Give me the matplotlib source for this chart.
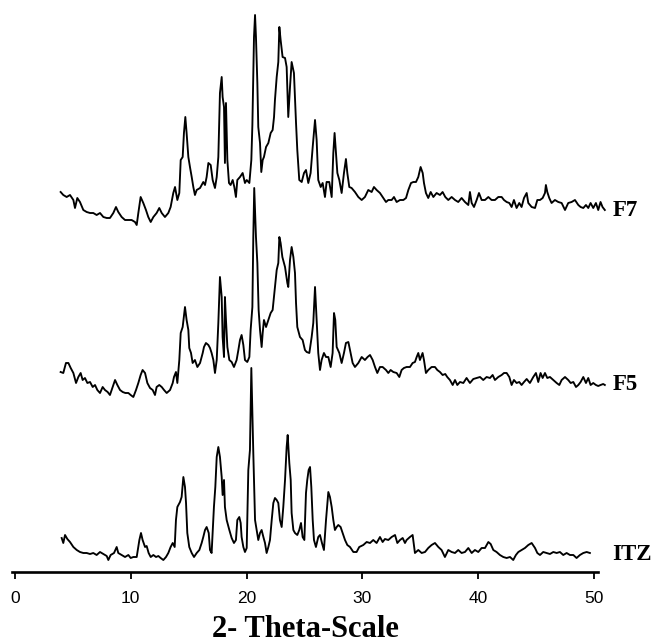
import numpy as np
import matplotlib.pyplot as plt

# (2-theta in degrees, intensity in a.u.) for each sample
itz_pattern = [
    (4.03, 24), (4.17, 19), (4.32, 27), (4.52, 23), (4.75, 20), (5.04, 15), (5.33, 12), (5.61, 10),
    (5.90, 9), (6.19, 9), (6.48, 8), (6.76, 9), (7.05, 7), (7.34, 10), (7.63, 8), (7.92, 6),
    (8.06, 2), (8.26, 7), (8.55, 9), (8.78, 15), (8.92, 9), (9.21, 7), (9.50, 5), (9.79, 7),
    (9.99, 4), (10.22, 5), (10.51, 5), (10.74, 22), (10.88, 29), (11.02, 22), (11.23, 15), (11.37, 16),
    (11.54, 9), (11.72, 5), (11.95, 7), (12.18, 5), (12.38, 6), (12.58, 4), (12.81, 2), (13.04, 5),
    (13.24, 9), (13.44, 15), (13.62, 19), (13.79, 15), (13.90, 42), (14.02, 55), (14.25, 60), (14.39, 65),
    (14.54, 85), (14.68, 75), (14.77, 59), (14.88, 29), (15.05, 15), (15.26, 9), (15.46, 5), (15.69, 9),
    (15.92, 12), (16.12, 19), (16.26, 25), (16.41, 32), (16.55, 35), (16.73, 29), (16.84, 12), (16.98, 9),
    (17.07, 29), (17.18, 55), (17.30, 75), (17.42, 105), (17.56, 115), (17.70, 105), (17.85, 85), (17.93, 67),
    (18.05, 82), (18.13, 55), (18.28, 42), (18.51, 32), (18.71, 24), (18.91, 19), (19.08, 22), (19.20, 42),
    (19.37, 45), (19.49, 39), (19.57, 25), (19.72, 15), (19.86, 10), (20.01, 14), (20.15, 92), (20.29, 112),
    (20.41, 194), (20.58, 109), (20.73, 42), (20.87, 32), (21.01, 22), (21.16, 29), (21.30, 32), (21.45, 25),
    (21.59, 19), (21.73, 9), (21.88, 15), (22.02, 22), (22.17, 42), (22.31, 59), (22.45, 64), (22.60, 62),
    (22.74, 59), (22.88, 42), (23.03, 35), (23.17, 55), (23.32, 82), (23.46, 115), (23.55, 127), (23.69, 99),
    (23.81, 82), (23.89, 49), (24.04, 32), (24.18, 29), (24.38, 27), (24.55, 32), (24.70, 39), (24.84, 25),
    (24.99, 22), (25.13, 69), (25.24, 82), (25.36, 92), (25.48, 95), (25.59, 75), (25.71, 42), (25.82, 22),
    (25.99, 15), (26.19, 25), (26.34, 27), (26.51, 19), (26.68, 12), (26.86, 42), (27.06, 70), (27.20, 65),
    (27.35, 55), (27.49, 42), (27.63, 32), (27.78, 35), (27.92, 37), (28.12, 35), (28.30, 29), (28.50, 22),
    (28.70, 17), (28.93, 15), (29.22, 10), (29.50, 10), (29.73, 15), (30.08, 17), (30.37, 20), (30.66, 19),
    (30.94, 22), (31.23, 19), (31.52, 25), (31.75, 20), (31.95, 23), (32.24, 22), (32.53, 25), (32.82, 27),
    (33.02, 19), (33.25, 22), (33.48, 24), (33.68, 19), (33.82, 22), (34.11, 25), (34.34, 27), (34.54, 9),
    (34.83, 12), (35.12, 9), (35.41, 10), (35.69, 14), (35.98, 17), (36.27, 19), (36.56, 15), (36.84, 12),
    (37.13, 5), (37.42, 12), (37.71, 10), (38.00, 9), (38.28, 12), (38.57, 9), (38.86, 10), (39.15, 14),
    (39.44, 9), (39.72, 12), (40.01, 10), (40.30, 14), (40.59, 14), (40.88, 20), (41.08, 18), (41.31, 12),
    (41.59, 10), (41.88, 7), (42.17, 5), (42.46, 4), (42.75, 5), (43.03, 2), (43.26, 7), (43.47, 10),
    (43.75, 12), (44.04, 14), (44.33, 17), (44.62, 19), (44.91, 14), (45.11, 9), (45.34, 7), (45.62, 10),
    (45.91, 9), (46.20, 8), (46.49, 10), (46.78, 9), (47.06, 10), (47.35, 7), (47.64, 9), (47.93, 7),
    (48.22, 7), (48.50, 4), (48.79, 7), (49.08, 9), (49.37, 10), (49.65, 9),
]

f5_pattern = [
    (3.94, 28), (4.17, 27), (4.40, 37), (4.61, 37), (4.81, 32), (5.04, 27), (5.27, 17), (5.47, 23),
    (5.67, 27), (5.84, 20), (6.04, 22), (6.25, 17), (6.48, 18), (6.71, 13), (6.91, 15), (7.11, 10),
    (7.34, 7), (7.57, 13), (7.77, 10), (8.00, 8), (8.20, 5), (8.43, 13), (8.64, 20), (8.84, 15),
    (9.07, 10), (9.30, 8), (9.53, 7), (9.79, 7), (9.99, 5), (10.22, 3), (10.45, 10), (10.65, 17),
    (10.85, 25), (11.02, 30), (11.23, 27), (11.43, 17), (11.66, 12), (11.89, 10), (12.09, 5), (12.23, 13),
    (12.46, 15), (12.67, 13), (12.87, 10), (13.10, 7), (13.39, 10), (13.62, 17), (13.73, 23), (13.90, 28),
    (14.02, 17), (14.19, 40), (14.31, 67), (14.48, 73), (14.68, 93), (14.82, 80), (14.97, 70), (15.05, 52),
    (15.20, 47), (15.34, 37), (15.54, 40), (15.75, 33), (15.98, 37), (16.21, 47), (16.32, 53), (16.49, 57),
    (16.70, 55), (16.84, 52), (16.98, 47), (17.13, 40), (17.27, 27), (17.42, 40), (17.56, 77), (17.70, 123),
    (17.85, 103), (17.93, 63), (18.05, 43), (18.13, 103), (18.22, 80), (18.34, 53), (18.51, 40), (18.71, 38),
    (18.91, 33), (19.14, 40), (19.29, 50), (19.43, 60), (19.57, 65), (19.72, 55), (19.86, 40), (20.06, 38),
    (20.24, 43), (20.35, 70), (20.50, 93), (20.58, 163), (20.66, 212), (20.81, 163), (20.93, 137), (21.04, 90),
    (21.16, 70), (21.30, 53), (21.39, 67), (21.50, 80), (21.68, 73), (21.88, 80), (22.08, 87), (22.25, 90),
    (22.45, 113), (22.60, 130), (22.74, 137), (22.83, 163), (22.94, 157), (23.09, 143), (23.32, 133), (23.52, 117),
    (23.60, 113), (23.75, 140), (23.89, 153), (24.04, 143), (24.18, 127), (24.27, 97), (24.38, 73), (24.61, 63),
    (24.84, 60), (25.04, 50), (25.19, 48), (25.42, 47), (25.62, 63), (25.76, 77), (25.91, 113), (26.05, 80),
    (26.19, 47), (26.34, 30), (26.48, 40), (26.68, 47), (26.86, 43), (27.06, 43), (27.26, 33), (27.43, 47),
    (27.55, 87), (27.66, 80), (27.78, 53), (28.01, 47), (28.21, 37), (28.41, 47), (28.58, 57), (28.79, 58),
    (28.93, 50), (29.16, 37), (29.36, 33), (29.65, 37), (29.94, 43), (30.22, 40), (30.45, 43), (30.66, 45),
    (30.89, 40), (31.09, 33), (31.29, 27), (31.52, 33), (31.75, 33), (32.04, 30), (32.24, 27), (32.44, 30),
    (32.67, 28), (32.96, 27), (33.19, 23), (33.39, 30), (33.59, 32), (33.82, 33), (34.11, 33), (34.34, 37),
    (34.54, 38), (34.69, 43), (34.83, 47), (34.97, 40), (35.20, 47), (35.32, 40), (35.49, 27), (35.69, 30),
    (35.98, 33), (36.27, 33), (36.47, 30), (36.70, 28), (36.93, 25), (37.16, 26), (37.33, 23), (37.56, 20),
    (37.80, 15), (38.00, 20), (38.20, 15), (38.43, 18), (38.72, 17), (39.00, 22), (39.29, 17), (39.58, 21),
    (39.87, 22), (40.16, 23), (40.44, 20), (40.73, 23), (41.02, 22), (41.25, 25), (41.45, 20), (41.74, 23),
    (42.03, 25), (42.23, 27), (42.46, 27), (42.69, 23), (42.89, 15), (43.09, 20), (43.32, 17), (43.55, 18),
    (43.75, 15), (43.96, 18), (44.19, 21), (44.47, 17), (44.76, 23), (44.99, 27), (45.19, 18), (45.39, 27),
    (45.57, 22), (45.77, 27), (45.97, 22), (46.20, 23), (46.49, 20), (46.78, 17), (47.01, 15), (47.21, 20),
    (47.50, 23), (47.78, 20), (47.99, 17), (48.22, 18), (48.45, 13), (48.65, 15), (48.85, 18), (49.08, 23),
    (49.31, 17), (49.51, 22), (49.71, 15), (49.94, 17), (50.17, 15), (50.37, 14), (50.57, 15), (50.80, 16),
    (50.94, 15),
]

f7_pattern = [
    (3.94, 33), (4.17, 30), (4.46, 28), (4.75, 30), (5.04, 25), (5.18, 17), (5.38, 27), (5.61, 23),
    (5.90, 15), (6.19, 13), (6.48, 12), (6.76, 12), (7.05, 10), (7.34, 12), (7.63, 8), (7.92, 7),
    (8.20, 7), (8.49, 12), (8.72, 18), (8.92, 13), (9.21, 8), (9.50, 5), (9.79, 5), (10.07, 5),
    (10.36, 3), (10.51, 0), (10.65, 12), (10.85, 28), (11.08, 22), (11.31, 15), (11.51, 8), (11.72, 3),
    (11.95, 8), (12.23, 12), (12.46, 17), (12.67, 12), (12.95, 8), (13.24, 12), (13.44, 18), (13.67, 32),
    (13.82, 38), (14.02, 25), (14.19, 32), (14.31, 65), (14.48, 68), (14.59, 92), (14.71, 108), (14.82, 92),
    (14.97, 68), (15.11, 58), (15.26, 48), (15.40, 38), (15.54, 30), (15.69, 35), (15.98, 37), (16.26, 43),
    (16.41, 40), (16.55, 48), (16.70, 62), (16.90, 60), (17.07, 45), (17.27, 37), (17.42, 48), (17.56, 68),
    (17.70, 132), (17.85, 148), (17.93, 128), (18.05, 118), (18.13, 62), (18.22, 122), (18.34, 65), (18.48, 42),
    (18.62, 40), (18.80, 45), (18.94, 38), (19.08, 28), (19.20, 45), (19.43, 48), (19.66, 52), (19.86, 42),
    (20.01, 45), (20.24, 42), (20.41, 65), (20.50, 100), (20.64, 188), (20.73, 210), (20.81, 188), (20.93, 142),
    (21.01, 98), (21.16, 82), (21.27, 53), (21.39, 65), (21.50, 68), (21.68, 78), (21.88, 82), (22.08, 92),
    (22.25, 95), (22.37, 108), (22.45, 125), (22.60, 148), (22.74, 163), (22.83, 198), (22.94, 185), (23.11, 168),
    (23.32, 167), (23.46, 158), (23.60, 108), (23.75, 138), (23.89, 163), (24.09, 152), (24.27, 102), (24.38, 75),
    (24.55, 45), (24.76, 43), (24.96, 52), (25.13, 55), (25.33, 42), (25.53, 52), (25.71, 78), (25.91, 105),
    (26.05, 85), (26.19, 45), (26.40, 38), (26.57, 42), (26.77, 28), (26.91, 43), (27.14, 43), (27.35, 28),
    (27.49, 72), (27.60, 92), (27.72, 72), (27.84, 52), (28.01, 45), (28.21, 32), (28.41, 52), (28.58, 66),
    (28.70, 52), (28.87, 38), (29.07, 37), (29.36, 33), (29.65, 28), (29.94, 25), (30.22, 28), (30.51, 35),
    (30.80, 33), (31.00, 38), (31.23, 35), (31.52, 32), (31.81, 27), (32.04, 23), (32.24, 25), (32.53, 25),
    (32.73, 28), (32.96, 23), (33.25, 25), (33.54, 25), (33.77, 27), (33.97, 35), (34.20, 42), (34.40, 43),
    (34.63, 43), (34.83, 48), (35.03, 58), (35.21, 52), (35.32, 42), (35.49, 32), (35.69, 27), (35.90, 33),
    (36.13, 28), (36.41, 32), (36.70, 30), (36.93, 33), (37.16, 28), (37.42, 25), (37.71, 28), (38.00, 25),
    (38.28, 23), (38.57, 27), (38.86, 23), (39.15, 20), (39.29, 33), (39.44, 22), (39.64, 18), (39.87, 25),
    (40.07, 32), (40.30, 25), (40.59, 25), (40.88, 28), (41.16, 25), (41.45, 25), (41.74, 28), (42.03, 28),
    (42.23, 25), (42.46, 23), (42.69, 22), (42.89, 18), (43.09, 25), (43.32, 17), (43.55, 22), (43.75, 18),
    (43.96, 27), (44.19, 32), (44.33, 22), (44.62, 18), (44.91, 17), (45.11, 25), (45.34, 25), (45.57, 27),
    (45.77, 32), (45.85, 40), (45.97, 33), (46.14, 27), (46.34, 22), (46.63, 25), (46.92, 23), (47.21, 22),
    (47.50, 15), (47.78, 22), (48.07, 23), (48.36, 25), (48.65, 20), (48.85, 18), (49.08, 17), (49.31, 20),
    (49.51, 17), (49.71, 22), (49.94, 17), (50.17, 22), (50.37, 15), (50.57, 23), (50.74, 18), (50.94, 15),
]

samples = ["ITZ", "F5", "F7"]
patterns = [itz_pattern, f5_pattern, f7_pattern]
x_ticks = [0, 10, 20, 30, 40, 50]

# vertical stacking of the diffractograms
offsets = [10, 172, 347]
label_y = [18, 187, 362]

fig = plt.figure(figsize=(6.53, 6.44), dpi=100)
ax = fig.add_axes([12 / 653, 72 / 644, 586 / 653, 572 / 644])

for name, pattern, off, ly in zip(samples, patterns, offsets, label_y):
    data = np.array(pattern)
    ax.plot(data[:, 0], data[:, 1] + off, color="black", lw=1.35, clip_on=False)
    ax.text(51.6, ly, name, fontsize=16.5, fontweight="bold",
            family="Liberation Serif", va="center", ha="left")

ax.set_xlim(-0.26, 50.35)
ax.set_ylim(0, 572)

for side in ["left", "right", "top"]:
    ax.spines[side].set_visible(False)
ax.spines["bottom"].set_linewidth(1.9)
ax.set_yticks([])
ax.set_xticks(x_ticks)
ax.tick_params(axis="x", direction="out", length=5, width=1.3, pad=9, labelsize=12.5)
for lbl in ax.get_xticklabels():
    lbl.set_family("Liberation Sans")

ax.set_xlabel("2- Theta-Scale", fontsize=22, fontweight="bold",
              family="Liberation Serif", labelpad=6)

fig.savefig("out.png", dpi=100)
